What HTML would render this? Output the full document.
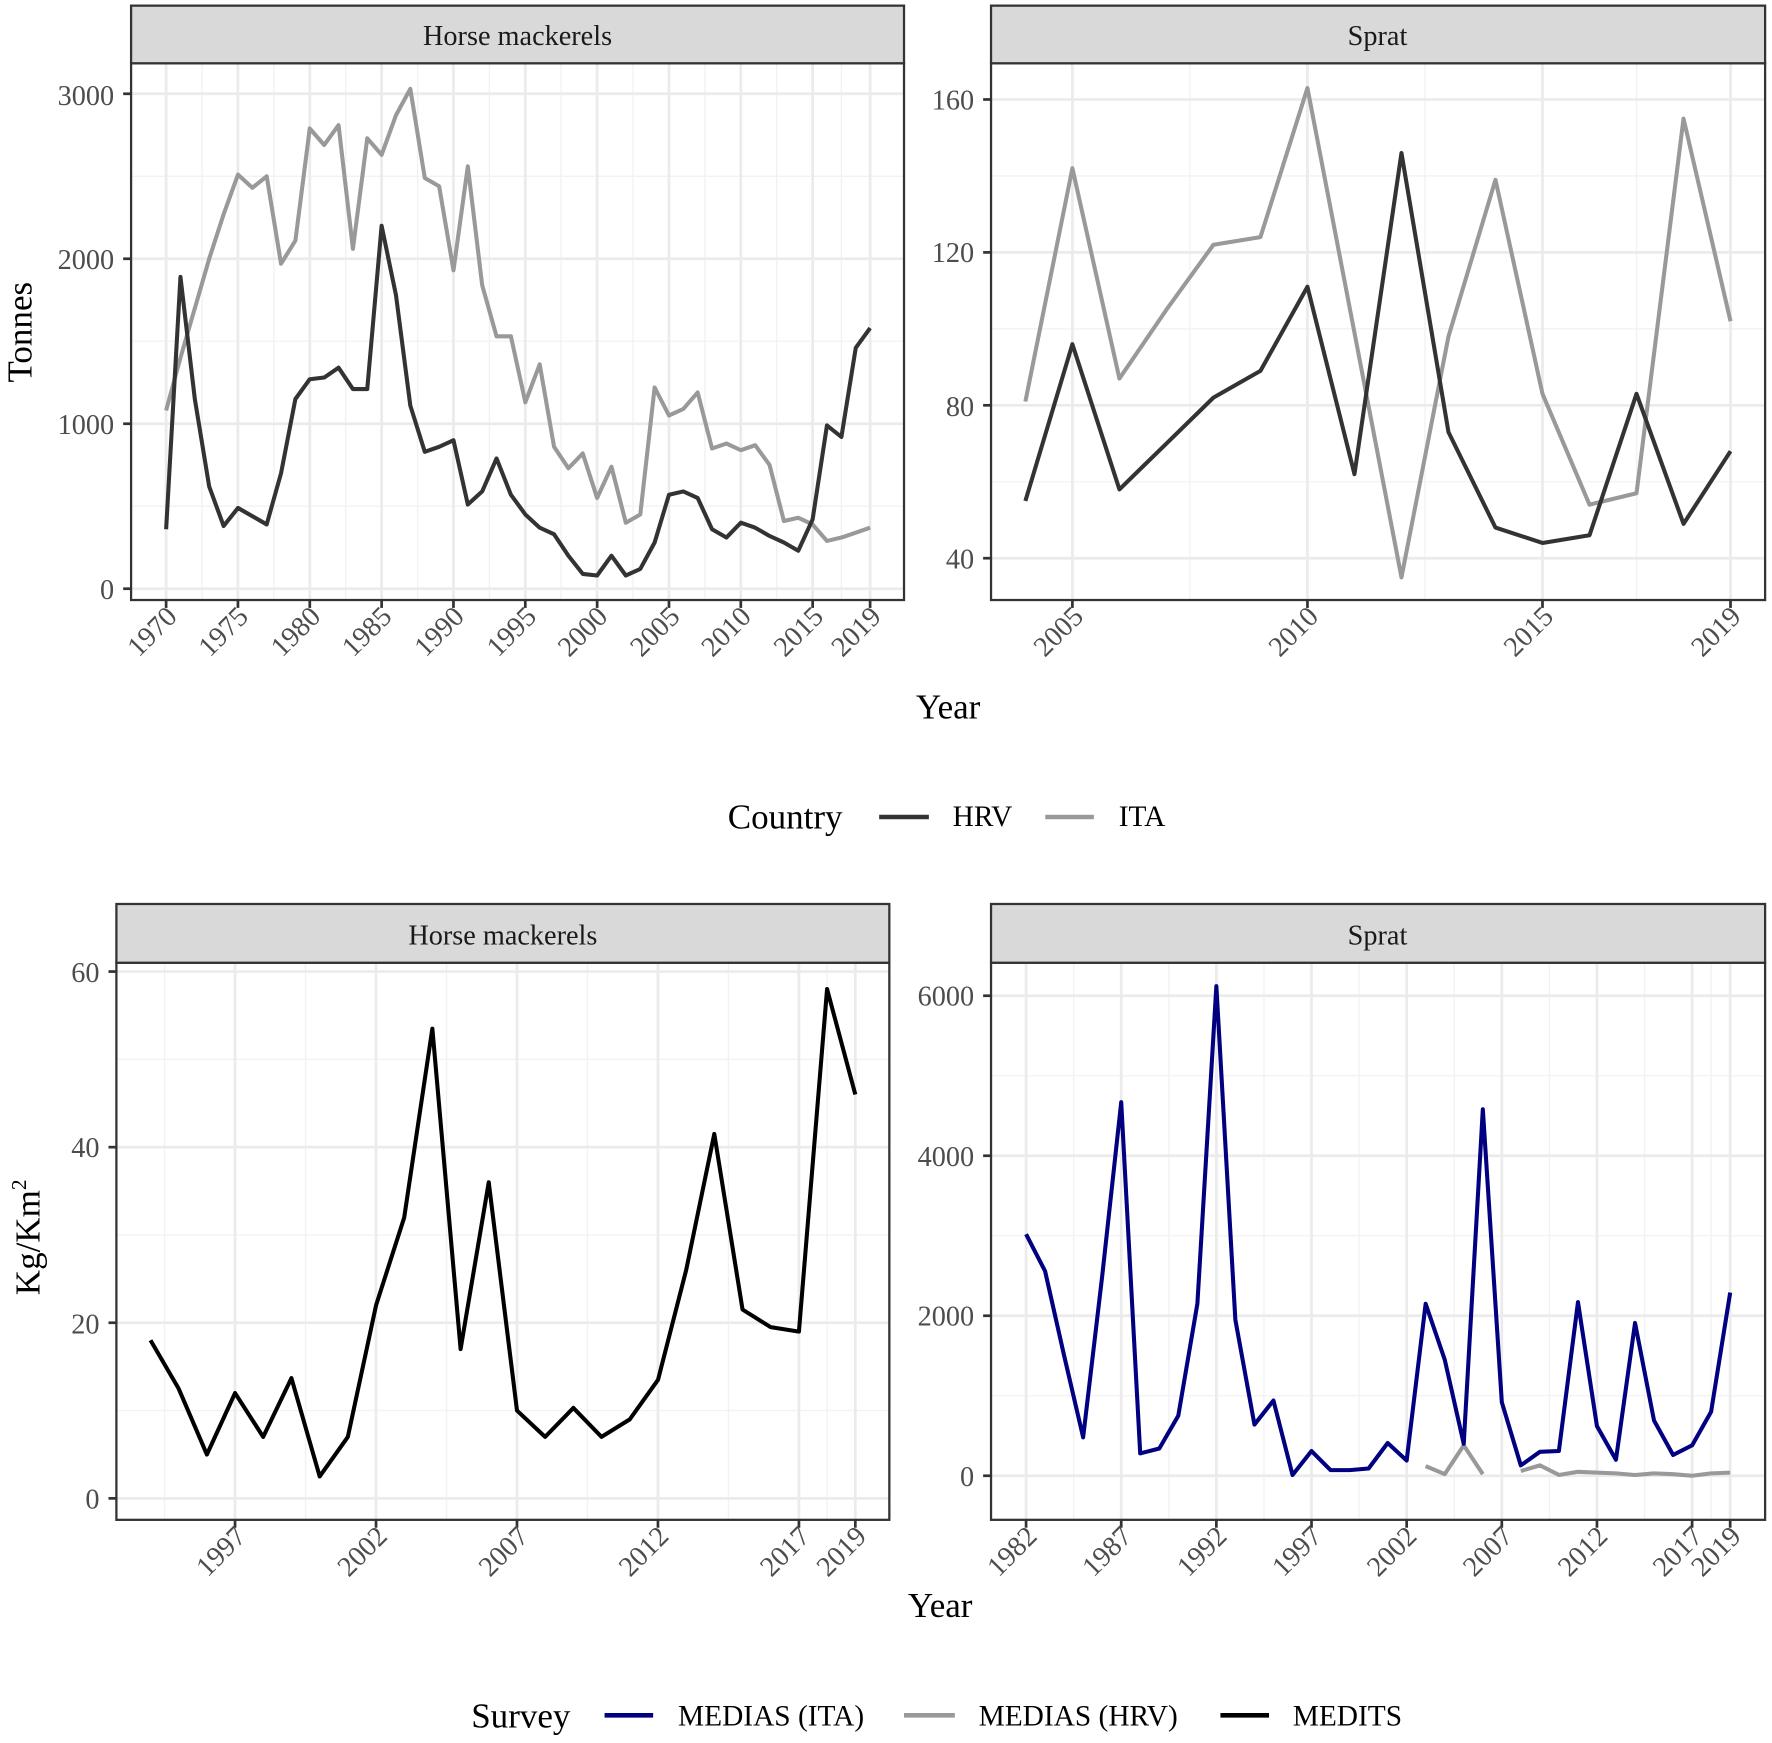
<!DOCTYPE html>
<html><head><meta charset="utf-8"><style>
html,body{margin:0;padding:0;background:#fff}
svg{display:block}
text{font-family:"Liberation Serif",serif;fill:#4d4d4d}
.t{font-size:25px}
.ttl{font-size:31px;fill:#000}
.strip{font-size:25px;fill:#1a1a1a}
.leg{font-size:26px;fill:#000}
</style></head><body>
<svg id="s" width="1772" height="1743" viewBox="0 0 1568.1 1542.5" preserveAspectRatio="none" xmlns="http://www.w3.org/2000/svg">
<g id="g"></g>
<rect x="116" y="5" width="684" height="51" fill="#d9d9d9" stroke="#333" stroke-width="2"/>
<text class="strip" x="458" y="40" text-anchor="middle">Horse mackerels</text>
<rect x="877" y="5" width="685" height="51" fill="#d9d9d9" stroke="#333" stroke-width="2"/>
<text class="strip" x="1219" y="40" text-anchor="middle">Sprat</text>
<rect x="103" y="800" width="684" height="52" fill="#d9d9d9" stroke="#333" stroke-width="2"/>
<text class="strip" x="445" y="836" text-anchor="middle">Horse mackerels</text>
<rect x="877" y="800" width="685" height="52" fill="#d9d9d9" stroke="#333" stroke-width="2"/>
<text class="strip" x="1219" y="836" text-anchor="middle">Sprat</text>
<text class="t" x="101" y="530" text-anchor="end">0</text>
<text class="t" x="101" y="384" text-anchor="end">1000</text>
<text class="t" x="101" y="238" text-anchor="end">2000</text>
<text class="t" x="101" y="93" text-anchor="end">3000</text>
<text class="t" x="862" y="503" text-anchor="end">40</text>
<text class="t" x="862" y="368" text-anchor="end">80</text>
<text class="t" x="862" y="232" text-anchor="end">120</text>
<text class="t" x="862" y="97" text-anchor="end">160</text>
<text class="t" x="88" y="1335" text-anchor="end">0</text>
<text class="t" x="88" y="1180" text-anchor="end">20</text>
<text class="t" x="88" y="1024" text-anchor="end">40</text>
<text class="t" x="88" y="869" text-anchor="end">60</text>
<text class="t" x="862" y="1315" text-anchor="end">0</text>
<text class="t" x="862" y="1173" text-anchor="end">2000</text>
<text class="t" x="862" y="1032" text-anchor="end">4000</text>
<text class="t" x="862" y="890" text-anchor="end">6000</text>
<text class="t" text-anchor="end" transform="translate(158,547) rotate(-45)">1970</text>
<text class="t" text-anchor="end" transform="translate(221,547) rotate(-45)">1975</text>
<text class="t" text-anchor="end" transform="translate(285,547) rotate(-45)">1980</text>
<text class="t" text-anchor="end" transform="translate(348,547) rotate(-45)">1985</text>
<text class="t" text-anchor="end" transform="translate(412,547) rotate(-45)">1990</text>
<text class="t" text-anchor="end" transform="translate(476,547) rotate(-45)">1995</text>
<text class="t" text-anchor="end" transform="translate(539,547) rotate(-45)">2000</text>
<text class="t" text-anchor="end" transform="translate(603,547) rotate(-45)">2005</text>
<text class="t" text-anchor="end" transform="translate(666,547) rotate(-45)">2010</text>
<text class="t" text-anchor="end" transform="translate(730,547) rotate(-45)">2015</text>
<text class="t" text-anchor="end" transform="translate(781,547) rotate(-45)">2019</text>
<text class="t" text-anchor="end" transform="translate(960,547) rotate(-45)">2005</text>
<text class="t" text-anchor="end" transform="translate(1168,547) rotate(-45)">2010</text>
<text class="t" text-anchor="end" transform="translate(1376,547) rotate(-45)">2015</text>
<text class="t" text-anchor="end" transform="translate(1542,547) rotate(-45)">2019</text>
<text class="t" text-anchor="end" transform="translate(219,1361) rotate(-45)">1997</text>
<text class="t" text-anchor="end" transform="translate(344,1361) rotate(-45)">2002</text>
<text class="t" text-anchor="end" transform="translate(469,1361) rotate(-45)">2007</text>
<text class="t" text-anchor="end" transform="translate(593,1361) rotate(-45)">2012</text>
<text class="t" text-anchor="end" transform="translate(718,1361) rotate(-45)">2017</text>
<text class="t" text-anchor="end" transform="translate(768,1361) rotate(-45)">2019</text>
<text class="t" text-anchor="end" transform="translate(919,1361) rotate(-45)">1982</text>
<text class="t" text-anchor="end" transform="translate(1003,1361) rotate(-45)">1987</text>
<text class="t" text-anchor="end" transform="translate(1087,1361) rotate(-45)">1992</text>
<text class="t" text-anchor="end" transform="translate(1171,1361) rotate(-45)">1997</text>
<text class="t" text-anchor="end" transform="translate(1255,1361) rotate(-45)">2002</text>
<text class="t" text-anchor="end" transform="translate(1340,1361) rotate(-45)">2007</text>
<text class="t" text-anchor="end" transform="translate(1424,1361) rotate(-45)">2012</text>
<text class="t" text-anchor="end" transform="translate(1508,1361) rotate(-45)">2017</text>
<text class="t" text-anchor="end" transform="translate(1542,1361) rotate(-45)">2019</text>
<text class="ttl" x="839" y="636" text-anchor="middle">Year</text>
<text class="ttl" x="832" y="1431" text-anchor="middle">Year</text>
<text class="ttl" text-anchor="middle" transform="translate(28,294) rotate(-90)">Tonnes</text>
<text class="ttl" text-anchor="middle" transform="translate(35,1095) rotate(-90)">Kg/Km<tspan font-size="19" dy="-12">2</tspan></text>
<text class="ttl" x="644" y="733">Country</text>
<line x1="778" y1="723" x2="822" y2="723" stroke="#333" stroke-width="4"/>
<text class="leg" x="843" y="731">HRV</text>
<line x1="925" y1="723" x2="968" y2="723" stroke="#999" stroke-width="4"/>
<text class="leg" x="990" y="731">ITA</text>
<text class="ttl" x="417" y="1529">Survey</text>
<line x1="535" y1="1518" x2="578" y2="1518" stroke="#000080" stroke-width="4"/>
<text class="leg" x="600" y="1527">MEDIAS (ITA)</text>
<line x1="800" y1="1518" x2="845" y2="1518" stroke="#999" stroke-width="4"/>
<text class="leg" x="866" y="1527">MEDIAS (HRV)</text>
<line x1="1080" y1="1518" x2="1123" y2="1518" stroke="#000" stroke-width="4"/>
<text class="leg" x="1144" y="1527">MEDITS</text>
</svg>
<script>
var NS="http://www.w3.org/2000/svg",G=document.getElementById("g");
function el(n,a){var e=document.createElementNS(NS,n);for(var k in a)e.setAttribute(k,a[k]);G.appendChild(e);return e;}
function panel(p){
 var X=function(v){return p.x0+(v-p.xa)*p.xs},Y=function(v){return p.y0-(v-p.ya)*p.ys};
 p.xmin.forEach(function(v){el("line",{x1:X(v),x2:X(v),y1:p.top,y2:p.bot,stroke:"#f2f2f2","stroke-width":1.2})});
 p.ymin.forEach(function(v){el("line",{x1:p.l,x2:p.r,y1:Y(v),y2:Y(v),stroke:"#f2f2f2","stroke-width":1.2})});
 p.xmaj.forEach(function(v){el("line",{x1:X(v),x2:X(v),y1:p.top,y2:p.bot,stroke:"#ebebeb","stroke-width":2.4})});
 p.ymaj.forEach(function(v){el("line",{x1:p.l,x2:p.r,y1:Y(v),y2:Y(v),stroke:"#ebebeb","stroke-width":2.4})});
 p.series.forEach(function(s){
  s.segs.forEach(function(seg){
   var pts=seg.map(function(d){return X(d[0]).toFixed(1)+","+Y(d[1]).toFixed(1)}).join(" ");
   el("polyline",{points:pts,fill:"none",stroke:s.c,"stroke-width":3.6,"stroke-linejoin":"round"});
  });
 });
 el("rect",{x:p.l,y:p.top,width:p.r-p.l,height:p.bot-p.top,fill:"none",stroke:"#333","stroke-width":2});
 p.xmaj.forEach(function(v){el("line",{x1:X(v),x2:X(v),y1:p.bot,y2:p.bot+7,stroke:"#333","stroke-width":2.4})});
 p.ymaj.forEach(function(v){el("line",{x1:p.l-7,x2:p.l,y1:Y(v),y2:Y(v),stroke:"#333","stroke-width":2.4})});
}
function ser(start,arr){return arr.map(function(v,i){return[start+i,v]})}
function rng(a,b,s){var r=[];for(var v=a;v<=b+1e-9;v+=s)r.push(v);return r}
panel({l:116,r:800,top:56,bot:531,x0:147,xa:1970,xs:12.714,y0:521,ya:0,ys:0.146,
 xmaj:rng(1970,2015,5).concat([2019]),xmin:rng(1972.5,2012.5,5).concat([2017]),
 ymaj:[0,1000,2000,3000],ymin:[500,1500,2500],
 series:[
 {c:"#999",segs:[ser(1970,[1080,1400,1700,2000,2270,2510,2430,2500,1970,2110,2790,2690,2810,2060,2730,2630,2870,3030,2490,2440,1930,2560,1840,1530,1530,1130,1360,860,730,820,550,740,400,450,1220,1050,1090,1190,850,880,840,870,750,410,430,390,290,310,340,370])]},
 {c:"#333",segs:[ser(1970,[360,1890,1150,620,380,490,440,390,700,1150,1270,1280,1340,1210,1210,2200,1780,1110,830,860,900,510,590,790,570,450,370,330,200,90,80,200,80,120,280,570,590,550,360,310,400,370,320,280,230,420,990,920,1460,1580])]}
 ]});
panel({l:877,r:1562,top:56,bot:531,x0:949,xa:2005,xs:41.6,y0:494,ya:40,ys:3.383,
 xmaj:[2005,2010,2015,2019],xmin:[2007.5,2012.5,2017],
 ymaj:[40,80,120,160],ymin:[60,100,140],
 series:[
 {c:"#999",segs:[ser(2004,[81,142,87,105,122,124,163,99,35,98,139,83,54,57,155,102])]},
 {c:"#333",segs:[ser(2004,[55,96,58,70,82,89,111,62,146,73,48,44,46,83,49,68])]}
 ]});
panel({l:103,r:787,top:852,bot:1345,x0:208,xa:1997,xs:24.95,y0:1326,ya:0,ys:7.77,
 xmaj:[1997,2002,2007,2012,2017,2019],xmin:[1994.5,1999.5,2004.5,2009.5,2014.5,2018],
 ymaj:[0,20,40,60],ymin:[10,30,50],
 series:[{c:"#000",segs:[ser(1994,[18,12.5,5,12,7,13.7,2.5,7,22,32,53.5,17,36,10,7,10.3,7,9,13.5,26,41.5,21.5,19.5,19,58,46])]}]});
panel({l:877,r:1562,top:852,bot:1345,x0:908,xa:1982,xs:16.84,y0:1306,ya:0,ys:0.0708,
 xmaj:rng(1982,2017,5).concat([2019]),xmin:rng(1984.5,2014.5,5).concat([2018]),
 ymaj:[0,2000,4000,6000],ymin:[1000,3000,5000],
 series:[
 {c:"#999",segs:[ser(2003,[120,20,380,20]),ser(2008,[60,130,10,50,40,30,10,30,20,0,30,40])]},
 {c:"#000080",segs:[ser(1982,[3020,2560,1500,480,2500,4670,280,340,750,2150,6120,1950,640,940,10,310,70,70,90,410,190,2150,1450,400,4580,920,130,300,310,2170,620,200,1910,690,260,380,800,2290])]}
 ]});
</script>
</body></html>
